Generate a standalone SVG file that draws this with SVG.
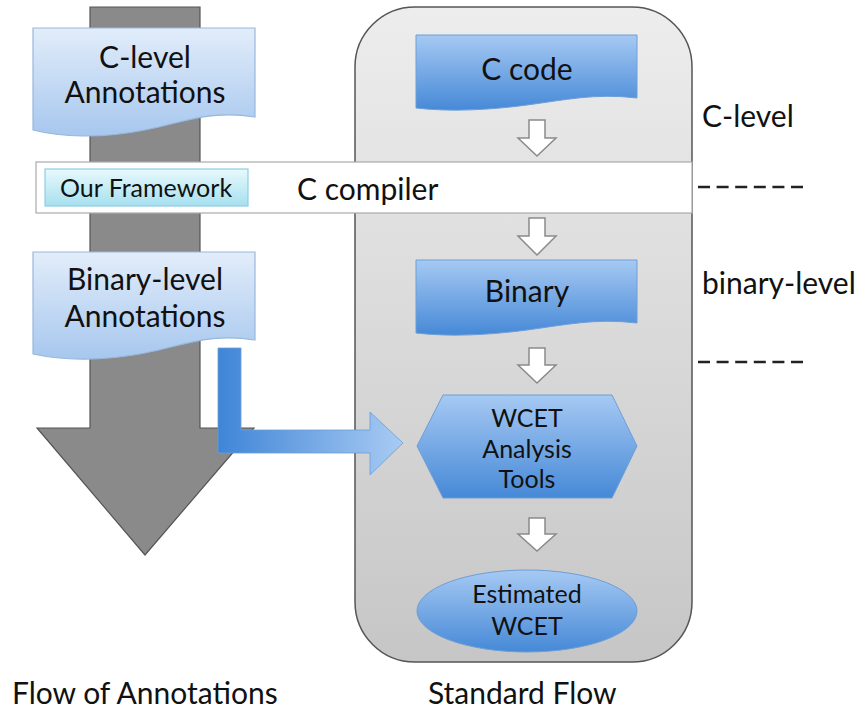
<svg xmlns="http://www.w3.org/2000/svg" width="863" height="713" viewBox="0 0 863 713">
<defs>
<linearGradient id="gLight" x1="0" y1="0" x2="0" y2="1"><stop offset="0" stop-color="#e2edfa"/><stop offset="1" stop-color="#a7c7ee"/></linearGradient>
<linearGradient id="gBlue" x1="0" y1="0" x2="0" y2="1"><stop offset="0" stop-color="#a6c9f3"/><stop offset="1" stop-color="#4689d7"/></linearGradient>
<linearGradient id="gCyan" x1="0" y1="0" x2="0" y2="1"><stop offset="0" stop-color="#e8f9fd"/><stop offset="1" stop-color="#a6e0ef"/></linearGradient>
<linearGradient id="gGray" x1="0" y1="0" x2="0" y2="1"><stop offset="0" stop-color="#ededed"/><stop offset="1" stop-color="#c6c6c6"/></linearGradient>
<linearGradient id="gArrow" gradientUnits="userSpaceOnUse" x1="218" y1="0" x2="403" y2="0"><stop offset="0" stop-color="#3f85d7"/><stop offset="1" stop-color="#a9cbf3"/></linearGradient>
</defs>
<style>
text{font-family:Lato,"Liberation Sans",sans-serif;fill:#111}
.big{font-size:30px}
.mid{font-size:25px}
.c{text-anchor:middle}
.hollow{fill:#fff;stroke:#8a8a8a;stroke-width:1.5}
.docL{fill:url(#gLight);stroke:#98b7dc;stroke-width:1.2}
.blue{fill:url(#gBlue);stroke:#6d9fd6;stroke-width:1}
.dash{stroke:#222;stroke-width:2.5;stroke-dasharray:12 6.6}
</style>

<g id="annotation-flow">
<path d="M90,7 H200 V428 H254 L145,555 L37,428 H90 Z" fill="#8a8a8a" stroke="#555" stroke-width="1.2"/>
</g>

<g id="standard-flow">
<rect x="355" y="7" width="337" height="655" rx="60" ry="60" fill="url(#gGray)" stroke="#555" stroke-width="1.5"/>
</g>

<g id="c-level-annotations">
<path class="docL" d="M33,28 H255 V117 C 210,110 185,122 145,130 C 100,139 60,137 33,130 Z"/>
<text class="big c" x="145" y="68">C-level</text>
<text class="big c" x="145" y="103">Annotations</text>
</g>

<g id="binary-level-annotations">
<path class="docL" d="M33,252 H255 V340 C 210,333 185,345 145,353 C 100,362 60,360 33,354 Z"/>
<text class="big c" x="145" y="290">Binary-level</text>
<text class="big c" x="145" y="327">Annotations</text>
</g>

<g id="c-compiler">
<rect x="36" y="162" width="656" height="51" fill="#fff" stroke="#aaa" stroke-width="1.2"/>
<text class="big" x="297" y="200">C compiler</text>
</g>

<g id="our-framework">
<rect x="45" y="169" width="203" height="37" fill="url(#gCyan)" stroke="#8fcde0" stroke-width="1.2"/>
<text class="mid c" x="146" y="197">Our Framework</text>
</g>

<g id="c-code">
<path class="blue" d="M416,35 H637 V98 C 595,93 565,100 527,105 C 490,110 450,112 416,108 Z"/>
<text class="big c" x="527" y="80">C code</text>
</g>

<g id="binary">
<path class="blue" d="M416,260 H637 V323 C 595,318 565,325 527,330 C 490,335 450,337 416,333 Z"/>
<text class="big c" x="527" y="302">Binary</text>
</g>

<g id="wcet-tools">
<polygon class="blue" points="417,446 443,395 612,395 637,446 612,498 443,498"/>
<text class="mid c" x="527" y="427">WCET</text>
<text class="mid c" x="527" y="458">Analysis</text>
<text class="mid c" x="527" y="488">Tools</text>
</g>

<g id="estimated-wcet">
<ellipse class="blue" cx="527" cy="611" rx="110" ry="41"/>
<text class="mid c" x="527" y="603">Estimated</text>
<text class="mid c" x="527" y="635">WCET</text>
</g>

<g id="connectors">
<path class="hollow" d="M529,120 H545 V138 H556 L537,156 L518,138 H529 Z"/>
<path class="hollow" d="M529,218 H545 V236 H556 L537,255 L518,236 H529 Z"/>
<path class="hollow" d="M529,348 H545 V365 H556 L537,383 L518,365 H529 Z"/>
<path class="hollow" d="M529,518 H545 V534 H556 L537,551 L518,534 H529 Z"/>
<path d="M218,348 H241 V430 H370 V412 L403,443 L370,475 V453 H218 Z" fill="url(#gArrow)" stroke="#6a9ed8" stroke-width="0.8"/>
</g>

<g id="labels">
<text class="big" x="702" y="127">C-level</text>
<text class="big" x="702" y="294">binary-level</text>
<line class="dash" x1="698" y1="187" x2="804" y2="187"/>
<line class="dash" x1="698" y1="362" x2="804" y2="362"/>
<text class="big" x="12" y="704">Flow of Annotations</text>
<text class="big" x="428" y="704">Standard Flow</text>
</g>
</svg>
